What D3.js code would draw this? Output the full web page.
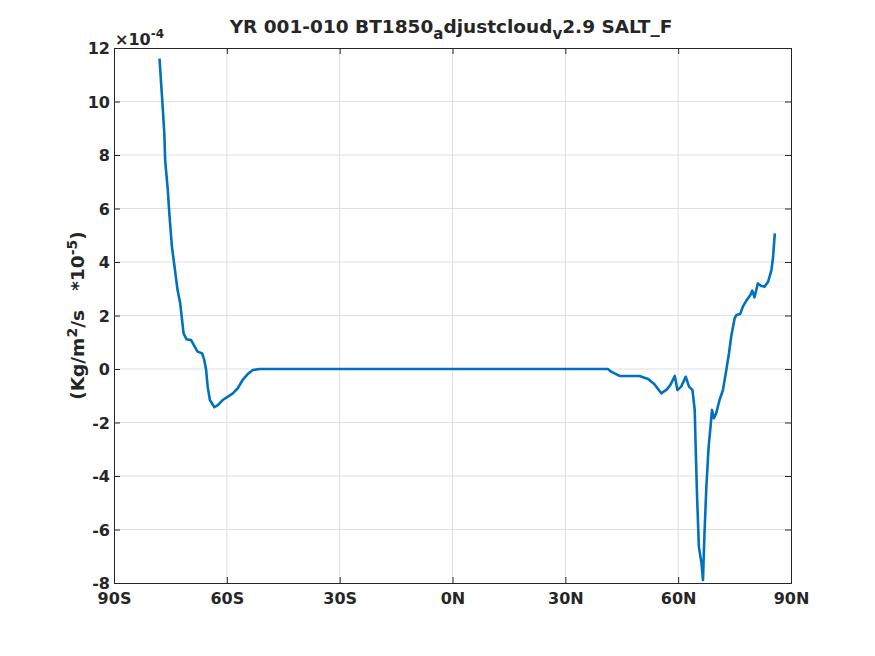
<!DOCTYPE html>
<html>
<head>
<meta charset="utf-8">
<script src="https://cdn.jsdelivr.net/npm/d3@7"></script>
<style>
  body { margin: 0; background: #fff; }
  svg text { font-family: "DejaVu Sans", sans-serif; font-weight: bold; fill: #262626; }
</style>
</head>
<body>
<svg id="chart" width="875" height="656"></svg>
<script>
// latitude (deg) and SALT_F (x 1e-4)
const lats = [-77.9, -77.0, -76.6, -76.4, -75.7, -75.3, -74.6, -73.9, -73.1, -72.4, -71.9, -71.5, -70.7,
  -69.5, -68.8, -67.8, -66.6, -66.0, -65.5, -65.1, -64.5, -63.3, -62.4, -61.1, -59.8, -58.4, -57.1,
  -55.8, -54.5, -53.1, -51.3, 0, 41.3, 42.2, 44.4, 49.7, 52.0, 53.7, 55.5, 57.0, 57.9, 59.1, 59.8,
  60.8, 62.0, 62.9, 63.8, 64.4, 64.6, 65.0, 65.5, 66.2, 66.6, 67.0, 67.5, 68.1, 68.6, 69.0, 69.5,
  70.1, 71.0, 71.9, 72.8, 73.5, 74.1, 75.0, 75.5, 76.5, 77.2, 78.1, 79.2, 79.7, 80.3, 81.2, 82.1,
  83.0, 83.9, 84.8, 85.2, 85.7];
const saltF = [11.6, 9.68, 8.75, 7.8, 6.7, 5.83, 4.57, 3.82, 2.95, 2.46, 1.83, 1.33, 1.11,
  1.08, 0.90, 0.65, 0.59, 0.34, -0.04, -0.66, -1.16, -1.43, -1.35, -1.16, -1.04, -0.91, -0.72,
  -0.41, -0.20, -0.04, 0, 0, 0, -0.1, -0.26, -0.26, -0.37, -0.57, -0.91, -0.76, -0.60, -0.26, -0.79,
  -0.66, -0.29, -0.66, -0.79, -1.53, -2.65, -4.65, -6.64, -7.26, -7.89, -6.14, -4.40, -2.90, -2.16, -1.53, -1.84,
  -1.66, -1.16, -0.79, -0.04, 0.58, 1.21, 1.89, 2.02, 2.06, 2.33, 2.55, 2.77, 2.93, 2.68, 3.20, 3.10,
  3.08, 3.26, 3.70, 4.14, 5.07];
const xTicks = [-90, -60, -30, 0, 30, 60, 90];
const xTickLabels = ["90S", "60S", "30S", "0N", "30N", "60N", "90N"];
const yTicks = [-8, -6, -4, -2, 0, 2, 4, 6, 8, 10, 12];

const svg = d3.select("#chart");
const m = { left: 114, right: 791, top: 48, bottom: 583 };

const x = d3.scaleLinear().domain([-90, 90]).range([m.left, m.right]);
const y = d3.scaleLinear().domain([-8, 12]).range([m.bottom, m.top]);

// grid
svg.append("g").selectAll("line").data(xTicks.slice(1, -1)).enter().append("line")
  .attr("x1", d => x(d)).attr("x2", d => x(d)).attr("y1", m.top).attr("y2", m.bottom)
  .attr("stroke", "#dfdfdf").attr("stroke-width", 1);
svg.append("g").selectAll("line").data(yTicks.slice(1, -1)).enter().append("line")
  .attr("x1", m.left).attr("x2", m.right).attr("y1", d => y(d)).attr("y2", d => y(d))
  .attr("stroke", "#dfdfdf").attr("stroke-width", 1);

// axes (ticks inward, box on)
const tl = 6;
const xAxisB = d3.axisBottom(x).tickValues(xTicks).tickSize(-tl)
  .tickFormat((d, i) => xTickLabels[i]).tickPadding(10);
const xAxisT = d3.axisTop(x).tickValues(xTicks).tickSize(-tl).tickFormat("");
const yAxisL = d3.axisLeft(y).tickValues(yTicks).tickSize(-tl).tickPadding(4)
  .tickFormat(d => String(d));
const yAxisR = d3.axisRight(y).tickValues(yTicks).tickSize(-tl).tickFormat("");

function style(g) {
  g.selectAll("path").attr("stroke", "#262626").attr("stroke-width", 1);
  g.selectAll("line").attr("stroke", "#262626");
  g.selectAll("text").attr("font-size", 16).attr("font-family", "DejaVu Sans")
    .attr("font-weight", "bold").attr("fill", "#262626");
}
svg.append("g").attr("transform", `translate(0,${m.bottom})`).call(xAxisB).call(style);
svg.append("g").attr("transform", `translate(0,${m.top})`).call(xAxisT).call(style);
svg.append("g").attr("transform", `translate(${m.left},0)`).call(yAxisL).call(style)
  .selectAll("text").attr("dy", "0.35em");
svg.append("g").attr("transform", `translate(${m.right},0)`).call(yAxisR).call(style);

// line
const pts = lats.map((d, i) => [d, saltF[i]]);
svg.append("path").datum(pts)
  .attr("fill", "none").attr("stroke", "#0072BD").attr("stroke-width", 2.6)
  .attr("stroke-linejoin", "round")
  .attr("d", d3.line().x(d => x(d[0])).y(d => y(d[1])));

// exponent label
const ex = svg.append("text").attr("x", m.left + 1).attr("y", 45).attr("font-size", 16)
  .attr("font-weight", "normal");
ex.append("tspan").text("×10");
ex.append("tspan").attr("dy", -7).attr("font-size", 12).text("-4");

// title
const t = svg.append("text").attr("x", 451).attr("y", 33).attr("text-anchor", "middle")
  .attr("font-size", 18.5);
t.append("tspan").text("YR 001-010 BT1850");
t.append("tspan").attr("dy", 6).attr("font-size", 15).text("a");
t.append("tspan").attr("dy", -6).text("djustcloud");
t.append("tspan").attr("dy", 6).attr("font-size", 15).text("v");
t.append("tspan").attr("dy", -6).text("2.9 SALT_F");

// y label
const yl = svg.append("text").attr("transform", `translate(84,${(m.top + m.bottom) / 2}) rotate(-90)`)
  .attr("text-anchor", "middle").attr("font-size", 18.5).attr("xml:space", "preserve");
yl.append("tspan").text("(Kg/m");
yl.append("tspan").attr("dy", -7).attr("font-size", 14).text("2");
yl.append("tspan").attr("dy", 7).text("/s   *10");
yl.append("tspan").attr("dy", -7).attr("font-size", 14).text("-5");
yl.append("tspan").attr("dy", 7).text(")");
</script>
</body>
</html>
